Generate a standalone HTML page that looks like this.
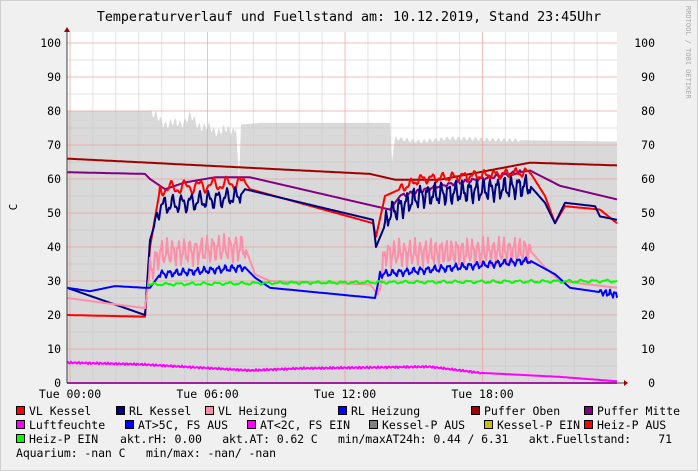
<!DOCTYPE html><html><head><meta charset="utf-8"><style>
body{margin:0;background:#f0f0f0}
svg{display:block;font-family:"DejaVu Sans Mono","Liberation Mono",monospace}
</style></head><body>
<svg id="s" width="698" height="471" xmlns="http://www.w3.org/2000/svg">
<rect x="0" y="0" width="698" height="471" fill="#f0f0f0"/>
<rect x="0.5" y="0.5" width="697" height="470" fill="none" stroke="#cfcfcf"/>
<rect x="67" y="32" width="550" height="351" fill="#fff"/>
<g id="fill"></g>
<g id="grid"></g>
<g id="lines" fill="none" stroke-width="2" stroke-linejoin="round"></g>
<text x="349" y="21" font-size="13.3" text-anchor="middle" fill="#000">Temperaturverlauf und Fuellstand am: 10.12.2019, Stand 23:45Uhr</text>
<text x="17" y="207" font-size="11" text-anchor="middle" transform="rotate(-90 17 207)">C</text>
<text x="686" y="6" font-size="7" fill="#aaa" transform="rotate(90 686 6)">RRDTOOL / TOBI OETIKER</text>
<g id="lab" font-size="11.5" fill="#000"></g>
</svg>
<script>
const NS="http://www.w3.org/2000/svg";
function el(p,t,a,txt){const e=document.createElementNS(NS,t);for(const k in a)e.setAttribute(k,a[k]);if(txt!==undefined)e.textContent=txt;document.getElementById(p).appendChild(e);return e;}
const Y=v=>383-3.4*v;
function interp(pts,x){if(x<pts[0][0])return null;for(let i=0;i<pts.length-1;i++){if(x>=pts[i][0]&&x<=pts[i+1][0]){const t=(x-pts[i][0])/(pts[i+1][0]-pts[i][0]||1);return pts[i][1]+t*(pts[i+1][1]-pts[i][1]);}}return pts[pts.length-1][1];}
function series(pts,osc,col,w){let d=[];for(let x=67;x<=617;x+=1){let v=interp(pts,x);if(v===null)continue;for(const o of (osc||[])){if(x>=o[0]&&x<=o[1])v+=o[2]*Math.sin(x*o[3])+o[2]*0.5*Math.sin(x*o[3]*2.3);}d.push(x+","+Y(v).toFixed(1));}el('lines','polyline',{points:d.join(" "),stroke:col,'stroke-width':w||2});}
(function(){const p=[[67,80],[150,80],[160,77],[175,76],[190,78],[205,75],[225,74],[236,75],[239,60],[241,76],[260,76.5],[390,76.5],[392,65],[395,72],[420,71],[450,72],[500,71.5],[617,71]];let d="M67,383";for(let x=67;x<=617;x++){let v=interp(p,x);if(x>150&&x<236)v+=1.2*Math.sin(x*1.3)+0.8*Math.sin(x*0.37);if(x>395&&x<520)v+=0.6*Math.sin(x*1.1);d+=" L"+x+","+Y(v).toFixed(1);}d+=" L617,383Z";el('fill','path',{d:d,fill:'#d9d9d9'});})();
for(let i=0;i<25;i++){const x=70+i*22.92;if(x>617)break;const maj=i%6==0;el('grid','line',{x1:x,x2:x,y1:32,y2:383,stroke:maj?'#f09090':'#c8c8c8','stroke-width':1,opacity:maj?0.6:0.5});}
for(let v=5;v<=100;v+=5){const maj=v%10==0;el('grid','line',{x1:67,x2:617,y1:Y(v),y2:Y(v),stroke:maj?'#f09090':'#c8c8c8','stroke-width':1,opacity:maj?0.6:0.5});}
series([[67,66],[370,61.5],[395,59.8],[440,59.8],[530,64.8],[617,64]],null,'#a00000');
series([[67,62],[145,61.5],[150,60],[165,57],[185,59],[215,60.5],[250,60.5],[375,52],[390,51],[400,55],[440,58],[530,62.5],[560,58],[617,54]],[[400,520,0.4,0.8]],'#800080');
series([[67,20],[145,19.5],[150,40],[160,57],[245,59],[250,57],[373,47],[376,43],[385,55],[400,57],[420,60],[530,62],[545,55],[555,47],[565,52],[600,51],[617,47]],[[160,245,1.5,0.45],[400,530,1,0.6]],'#ff0000');
series([[67,28],[145,20],[150,42],[160,52],[240,55],[245,57],[373,48],[376,40],[390,50],[420,55],[530,58],[545,53],[555,47],[565,53],[595,52],[600,49],[617,48]],[[155,240,2,0.7],[385,530,2.5,0.9]],'#000080');
series([[67,25],[145,22],[150,33],[160,38],[245,40],[255,32],[270,30],[370,29],[378,26],[385,38],[530,39],[545,34],[560,30],[617,28]],[[150,245,3,1.1],[380,530,3,1.2]],'#ff8fa8');
series([[67,28],[90,27],[115,28.5],[145,28],[150,28],[160,32],[245,34],[255,31],[270,28],[375,25],[380,32],[530,36],[555,32],[570,28],[617,26]],[[160,245,0.8,0.9],[380,530,0.8,0.9],[600,617,0.8,1.3]],'#0000ff');
series([[147,29],[300,29.5],[617,30]],[[147,617,0.3,0.5]],'#00ff00');
series([[67,6],[140,5.5],[250,3.7],[300,4.3],[430,4.8],[480,3],[560,1.8],[617,0.5]],[[67,480,0.2,1.7]],'#ff00ff');
series([[67,0],[617,0]],null,'#ff00ff');
el('lines','line',{x1:67,x2:624,y1:383,y2:383,stroke:'#404040','stroke-width':1});
el('lines','line',{x1:67,x2:67,y1:383,y2:28,stroke:'#404040','stroke-width':1});
el('lines','path',{d:'M624,380 L628,383 L624,386Z',fill:'#a00000',stroke:'none'});
el('lines','path',{d:'M64,32 L67,27 L70,32Z',fill:'#a00000',stroke:'none'});
for(let v=0;v<=100;v+=10){el('lab','text',{x:61,y:Y(v)+4,'text-anchor':'end'},String(v));el('lab','text',{x:655,y:Y(v)+4,'text-anchor':'end'},String(v));}
["Tue 00:00","Tue 06:00","Tue 12:00","Tue 18:00"].forEach((t,i)=>el('lab','text',{x:70+i*137.5,y:398,'text-anchor':'middle'},t));
const leg=[[411,[[16,'#ff0000','VL Kessel'],[116,'#000080','RL Kessel'],[205,'#ff8fa8','VL Heizung'],[338,'#0000ff','RL Heizung'],[471,'#a00000','Puffer Oben'],[584,'#800080','Puffer Mitte']]],
[425,[[16,'#ff00ff','Luftfeuchte'],[125,'#0000ff','AT>5C, FS AUS'],[247,'#ff00ff','AT<2C, FS EIN'],[369,'#808080','Kessel-P AUS'],[484,'#c8c000','Kessel-P EIN'],[584,'#ff0000','Heiz-P AUS']]],
[439,[[16,'#00ff00','Heiz-P EIN']]]];
leg.forEach(r=>r[1].forEach(i=>{el('lab','rect',{x:i[0]+0.5,y:r[0]-4.5,width:8,height:8,fill:i[1],stroke:'#000','stroke-width':1});el('lab','text',{x:i[0]+13,y:r[0]+4},i[2]);}));
const t1=el('lab','text',{x:120,y:443,textLength:552,lengthAdjust:'spacing'},"akt.rH: 0.00   akt.AT: 0.62 C   min/maxAT24h: 0.44 / 6.31   akt.Fuellstand:    71");t1.style.whiteSpace='pre';
const t2=el('lab','text',{x:16,y:457,textLength:260,lengthAdjust:'spacing'},"Aquarium: -nan C   min/max: -nan/ -nan");t2.style.whiteSpace='pre';
</script>
</body></html>
